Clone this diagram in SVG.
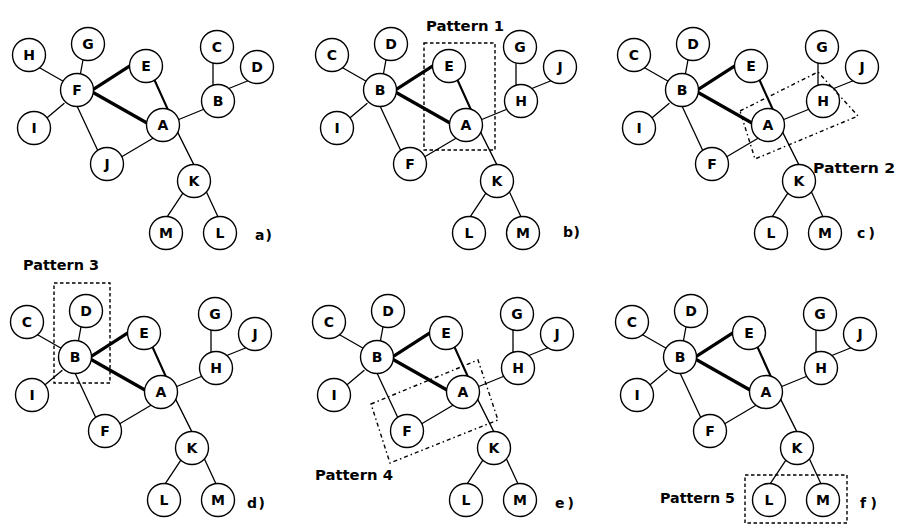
<svg xmlns="http://www.w3.org/2000/svg" width="898" height="527" viewBox="0 0 898 527">
  <style>
    .node circle { fill: #fff; stroke: #000; stroke-width: 1.4; }
    .node text { font-family: "DejaVu Sans", "Liberation Sans", sans-serif; font-size: 14px; font-weight: bold; text-anchor: middle; fill: #000; }
    .edges line { stroke: #000; stroke-width: 1.3; stroke-linecap: round; }
    .edges line.thick { stroke-width: 3.2; }
    .edges line.mid { stroke-width: 2.2; }
    .pattern { fill: none; stroke: #000; stroke-width: 1.4; stroke-dasharray: 3.5 2.5; }
    .pattern.dotted { stroke-dasharray: 4 3 1.5 3; }
    .lbl { font-family: "DejaVu Sans", "Liberation Sans", sans-serif; font-size: 14px; font-weight: bold; fill: #000; }
  </style>
  <defs>
    <!-- shared edge layout (same geometry in every panel) -->
    <g id="edge-set" class="edges">
      <line x1="36.5" y1="66" x2="64.5" y2="82"/>
      <line x1="83.7" y1="56" x2="79.3" y2="80"/>
      <line class="thick" x1="90.6" y1="91.2" x2="131.4" y2="64.8"/>
      <line class="thick" x1="90.5" y1="91" x2="150.5" y2="125"/>
      <line class="mid" x1="152.4" y1="75.4" x2="170.6" y2="115.6"/>
      <line x1="64" y1="103.4" x2="45" y2="119.6"/>
      <line x1="76.3" y1="104.4" x2="98.7" y2="152.6"/>
      <line x1="119.6" y1="158" x2="153.4" y2="138"/>
      <line x1="176.3" y1="120.5" x2="205.7" y2="108.5"/>
      <line x1="213" y1="59" x2="213" y2="89"/>
      <line x1="226.3" y1="89.5" x2="248.7" y2="80.5"/>
      <line x1="176.2" y1="129.4" x2="194.8" y2="166.6"/>
      <line x1="185.2" y1="189.7" x2="164.8" y2="220.3"/>
      <line x1="205.3" y1="189.4" x2="219.7" y2="220.6"/>
    </g>
  </defs>

  <!-- panel a -->
  <g id="panel-a">
    <g id="a-connectors"><use href="#edge-set"/></g>
    <g id="a-H" class="node"><circle cx="29" cy="55" r="16.5"/><text x="29" y="60">H</text></g>
    <g id="a-G" class="node"><circle cx="88" cy="44" r="16.5"/><text x="88" y="49">G</text></g>
    <g id="a-F" class="node"><circle cx="77" cy="90" r="16.5"/><text x="77" y="95">F</text></g>
    <g id="a-E" class="node"><circle cx="146" cy="66" r="16.5"/><text x="146" y="71">E</text></g>
    <g id="a-C" class="node"><circle cx="217" cy="47" r="16.5"/><text x="217" y="52">C</text></g>
    <g id="a-D" class="node"><circle cx="257" cy="67" r="16.5"/><text x="257" y="72">D</text></g>
    <g id="a-B" class="node"><circle cx="218" cy="101" r="16.5"/><text x="218" y="106">B</text></g>
    <g id="a-A" class="node"><circle cx="163" cy="125" r="16.5"/><text x="163" y="130">A</text></g>
    <g id="a-I" class="node"><circle cx="34" cy="128" r="16.5"/><text x="34" y="133">I</text></g>
    <g id="a-J" class="node"><circle cx="107" cy="164" r="16.5"/><text x="107" y="169">J</text></g>
    <g id="a-K" class="node"><circle cx="194" cy="181" r="16.5"/><text x="194" y="186">K</text></g>
    <g id="a-M" class="node"><circle cx="166" cy="233" r="16.5"/><text x="166" y="238">M</text></g>
    <g id="a-L" class="node"><circle cx="220" cy="233" r="16.5"/><text x="220" y="238">L</text></g>
  </g>

  <!-- panels b to f share one layout, shifted -->
  <g id="panel-b" transform="translate(303,0)">
    <g id="b-connectors"><use href="#edge-set"/></g>
    <g id="b-C" class="node"><circle cx="29" cy="55" r="16.5"/><text x="29" y="60">C</text></g>
    <g id="b-D" class="node"><circle cx="88" cy="44" r="16.5"/><text x="88" y="49">D</text></g>
    <g id="b-B" class="node"><circle cx="77" cy="90" r="16.5"/><text x="77" y="95">B</text></g>
    <g id="b-E" class="node"><circle cx="146" cy="66" r="16.5"/><text x="146" y="71">E</text></g>
    <g id="b-G" class="node"><circle cx="217" cy="47" r="16.5"/><text x="217" y="52">G</text></g>
    <g id="b-J" class="node"><circle cx="257" cy="67" r="16.5"/><text x="257" y="72">J</text></g>
    <g id="b-H" class="node"><circle cx="218" cy="101" r="16.5"/><text x="218" y="106">H</text></g>
    <g id="b-A" class="node"><circle cx="163" cy="125" r="16.5"/><text x="163" y="130">A</text></g>
    <g id="b-I" class="node"><circle cx="34" cy="128" r="16.5"/><text x="34" y="133">I</text></g>
    <g id="b-F" class="node"><circle cx="107" cy="164" r="16.5"/><text x="107" y="169">F</text></g>
    <g id="b-K" class="node"><circle cx="194" cy="181" r="16.5"/><text x="194" y="186">K</text></g>
    <g id="b-L" class="node"><circle cx="166" cy="233" r="16.5"/><text x="166" y="238">L</text></g>
    <g id="b-M" class="node"><circle cx="220" cy="233" r="16.5"/><text x="220" y="238">M</text></g>
  </g>

  <g id="panel-c" transform="translate(605,0)">
    <g id="c-connectors"><use href="#edge-set"/></g>
    <g id="c-C" class="node"><circle cx="29" cy="55" r="16.5"/><text x="29" y="60">C</text></g>
    <g id="c-D" class="node"><circle cx="88" cy="44" r="16.5"/><text x="88" y="49">D</text></g>
    <g id="c-B" class="node"><circle cx="77" cy="90" r="16.5"/><text x="77" y="95">B</text></g>
    <g id="c-E" class="node"><circle cx="146" cy="66" r="16.5"/><text x="146" y="71">E</text></g>
    <g id="c-G" class="node"><circle cx="217" cy="47" r="16.5"/><text x="217" y="52">G</text></g>
    <g id="c-J" class="node"><circle cx="257" cy="67" r="16.5"/><text x="257" y="72">J</text></g>
    <g id="c-H" class="node"><circle cx="218" cy="101" r="16.5"/><text x="218" y="106">H</text></g>
    <g id="c-A" class="node"><circle cx="163" cy="125" r="16.5"/><text x="163" y="130">A</text></g>
    <g id="c-I" class="node"><circle cx="34" cy="128" r="16.5"/><text x="34" y="133">I</text></g>
    <g id="c-F" class="node"><circle cx="107" cy="164" r="16.5"/><text x="107" y="169">F</text></g>
    <g id="c-K" class="node"><circle cx="194" cy="181" r="16.5"/><text x="194" y="186">K</text></g>
    <g id="c-L" class="node"><circle cx="166" cy="233" r="16.5"/><text x="166" y="238">L</text></g>
    <g id="c-M" class="node"><circle cx="220" cy="233" r="16.5"/><text x="220" y="238">M</text></g>
  </g>

  <g id="panel-d" transform="translate(-2,267)">
    <g id="d-connectors"><use href="#edge-set"/></g>
    <g id="d-C" class="node"><circle cx="29" cy="55" r="16.5"/><text x="29" y="60">C</text></g>
    <g id="d-D" class="node"><circle cx="88" cy="44" r="16.5"/><text x="88" y="49">D</text></g>
    <g id="d-B" class="node"><circle cx="77" cy="90" r="16.5"/><text x="77" y="95">B</text></g>
    <g id="d-E" class="node"><circle cx="146" cy="66" r="16.5"/><text x="146" y="71">E</text></g>
    <g id="d-G" class="node"><circle cx="217" cy="47" r="16.5"/><text x="217" y="52">G</text></g>
    <g id="d-J" class="node"><circle cx="257" cy="67" r="16.5"/><text x="257" y="72">J</text></g>
    <g id="d-H" class="node"><circle cx="218" cy="101" r="16.5"/><text x="218" y="106">H</text></g>
    <g id="d-A" class="node"><circle cx="163" cy="125" r="16.5"/><text x="163" y="130">A</text></g>
    <g id="d-I" class="node"><circle cx="34" cy="128" r="16.5"/><text x="34" y="133">I</text></g>
    <g id="d-F" class="node"><circle cx="107" cy="164" r="16.5"/><text x="107" y="169">F</text></g>
    <g id="d-K" class="node"><circle cx="194" cy="181" r="16.5"/><text x="194" y="186">K</text></g>
    <g id="d-L" class="node"><circle cx="166" cy="233" r="16.5"/><text x="166" y="238">L</text></g>
    <g id="d-M" class="node"><circle cx="220" cy="233" r="16.5"/><text x="220" y="238">M</text></g>
  </g>

  <g id="panel-e" transform="translate(300,267)">
    <g id="e-connectors"><use href="#edge-set"/></g>
    <g id="e-C" class="node"><circle cx="29" cy="55" r="16.5"/><text x="29" y="60">C</text></g>
    <g id="e-D" class="node"><circle cx="88" cy="44" r="16.5"/><text x="88" y="49">D</text></g>
    <g id="e-B" class="node"><circle cx="77" cy="90" r="16.5"/><text x="77" y="95">B</text></g>
    <g id="e-E" class="node"><circle cx="146" cy="66" r="16.5"/><text x="146" y="71">E</text></g>
    <g id="e-G" class="node"><circle cx="217" cy="47" r="16.5"/><text x="217" y="52">G</text></g>
    <g id="e-J" class="node"><circle cx="257" cy="67" r="16.5"/><text x="257" y="72">J</text></g>
    <g id="e-H" class="node"><circle cx="218" cy="101" r="16.5"/><text x="218" y="106">H</text></g>
    <g id="e-A" class="node"><circle cx="163" cy="125" r="16.5"/><text x="163" y="130">A</text></g>
    <g id="e-I" class="node"><circle cx="34" cy="128" r="16.5"/><text x="34" y="133">I</text></g>
    <g id="e-F" class="node"><circle cx="107" cy="164" r="16.5"/><text x="107" y="169">F</text></g>
    <g id="e-K" class="node"><circle cx="194" cy="181" r="16.5"/><text x="194" y="186">K</text></g>
    <g id="e-L" class="node"><circle cx="166" cy="233" r="16.5"/><text x="166" y="238">L</text></g>
    <g id="e-M" class="node"><circle cx="220" cy="233" r="16.5"/><text x="220" y="238">M</text></g>
  </g>

  <g id="panel-f" transform="translate(603,267)">
    <g id="f-connectors"><use href="#edge-set"/></g>
    <g id="f-C" class="node"><circle cx="29" cy="55" r="16.5"/><text x="29" y="60">C</text></g>
    <g id="f-D" class="node"><circle cx="88" cy="44" r="16.5"/><text x="88" y="49">D</text></g>
    <g id="f-B" class="node"><circle cx="77" cy="90" r="16.5"/><text x="77" y="95">B</text></g>
    <g id="f-E" class="node"><circle cx="146" cy="66" r="16.5"/><text x="146" y="71">E</text></g>
    <g id="f-G" class="node"><circle cx="217" cy="47" r="16.5"/><text x="217" y="52">G</text></g>
    <g id="f-J" class="node"><circle cx="257" cy="67" r="16.5"/><text x="257" y="72">J</text></g>
    <g id="f-H" class="node"><circle cx="218" cy="101" r="16.5"/><text x="218" y="106">H</text></g>
    <g id="f-A" class="node"><circle cx="163" cy="125" r="16.5"/><text x="163" y="130">A</text></g>
    <g id="f-I" class="node"><circle cx="34" cy="128" r="16.5"/><text x="34" y="133">I</text></g>
    <g id="f-F" class="node"><circle cx="107" cy="164" r="16.5"/><text x="107" y="169">F</text></g>
    <g id="f-K" class="node"><circle cx="194" cy="181" r="16.5"/><text x="194" y="186">K</text></g>
    <g id="f-L" class="node"><circle cx="166" cy="233" r="16.5"/><text x="166" y="238">L</text></g>
    <g id="f-M" class="node"><circle cx="220" cy="233" r="16.5"/><text x="220" y="238">M</text></g>
  </g>

  <!-- pattern outlines -->
  <g id="patterns">
    <rect class="pattern" x="424" y="43" width="71" height="107"/>
    <polygon class="pattern dotted" points="740,111 818,72 858,116 755,159"/>
    <rect class="pattern" x="54" y="283" width="56" height="100"/>
    <polygon class="pattern dotted" points="371,404 478,360 498,420 390,463"/>
    <rect class="pattern" x="745" y="475" width="102" height="48"/>
  </g>

  <!-- captions -->
  <g id="captions">
    <text class="lbl" x="426" y="31" textLength="78" lengthAdjust="spacingAndGlyphs">Pattern 1</text>
    <text class="lbl" x="813" y="173" textLength="82" lengthAdjust="spacingAndGlyphs">Pattern 2</text>
    <text class="lbl" x="23" y="270" textLength="76" lengthAdjust="spacingAndGlyphs">Pattern 3</text>
    <text class="lbl" x="315" y="480" textLength="78" lengthAdjust="spacingAndGlyphs">Pattern 4</text>
    <text class="lbl" x="660" y="503" textLength="75" lengthAdjust="spacingAndGlyphs">Pattern 5</text>
    <text class="lbl" x="255" y="240" textLength="17">a)</text>
    <text class="lbl" x="563" y="237" textLength="17">b)</text>
    <text class="lbl" x="857" y="238" textLength="18">c)</text>
    <text class="lbl" x="247" y="508" textLength="18">d)</text>
    <text class="lbl" x="555" y="508" textLength="19">e)</text>
    <text class="lbl" x="860" y="508" textLength="17">f)</text>
  </g>
</svg>
